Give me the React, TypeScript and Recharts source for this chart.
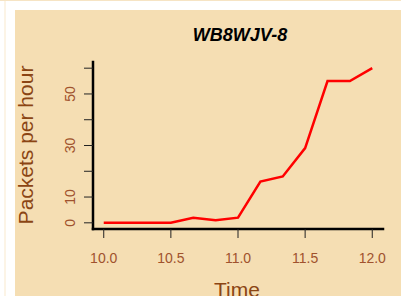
import { LineChart, Line, XAxis, YAxis } from "recharts";

// hours (10-minute steps) and packets per hour
const times = [10, 10.1667, 10.3333, 10.5, 10.6667, 10.8333, 11, 11.1667, 11.3333, 11.5, 11.6667, 11.8333, 12];
const packets = [0, 0, 0, 0, 2, 1, 2, 16, 18, 29, 55, 55, 60];

const xTicks = [10, 10.5, 11, 11.5, 12];
const xTickLabels = ["10.0", "10.5", "11.0", "11.5", "12.0"];
const yTicks = [0, 10, 20, 30, 40, 50, 60];
const yTickLabels = ["0", "10", "", "30", "", "50", ""];

const title = "WB8WJV-8";
const xTitle = "Time";
const yTitle = "Packets per hour";

const data = times.map((t, i) => ({ t, v: packets[i] }));

const FONT = '"Liberation Sans", Arial, Helvetica, sans-serif';
const BROWN = "#8b4513";
const TICK_BROWN = "#a0522d";

function XTick(props: any) {
  const { x, y, payload } = props;
  const i = xTicks.indexOf(payload.value);
  return (
    <text x={x} y={y + 23} textAnchor="middle" fill={TICK_BROWN} fontSize={14} fontFamily={FONT}>
      {i >= 0 ? xTickLabels[i] : ""}
    </text>
  );
}

function YTick(props: any) {
  const { y, payload } = props;
  const i = yTicks.indexOf(payload.value);
  const label = i >= 0 ? yTickLabels[i] : "";
  if (!label) return <g />;
  const x = 60;
  return (
    <text
      x={x}
      y={y}
      transform={`rotate(-90, ${x}, ${y})`}
      textAnchor="middle"
      fill={TICK_BROWN}
      fontSize={14}
      fontFamily={FONT}
    >
      {label}
    </text>
  );
}

export default function App() {
  return (
    <div style={{ position: "absolute", left: 0, top: 0, width: 401, height: 296, background: "#fff", overflow: "hidden" }}>
      <div style={{ position: "absolute", left: 0, top: 0, width: 401, height: 1, background: "#f6e4c4" }} />
      <div style={{ position: "absolute", left: 4, top: 1, width: 2, height: 295, background: "#fcf4e6" }} />
      <div style={{ position: "absolute", left: 15, top: 10, width: 386, height: 286, background: "#f5deb3", overflow: "hidden" }}>
        <LineChart width={386} height={300} data={data} margin={{ top: 52, right: 18, bottom: 0, left: 0 }}>
          <XAxis
            dataKey="t"
            type="number"
            domain={[9.92, 12.08]}
            ticks={xTicks}
            allowDataOverflow
            height={81}
            tickSize={9}
            axisLine={{ stroke: "#000", strokeWidth: 2.5, strokeLinecap: "square" }}
            tickLine={{ stroke: "#222", strokeWidth: 1 }}
            tick={<XTick />}
            interval={0}
          />
          <YAxis
            type="number"
            domain={[-2.4, 62.4]}
            ticks={yTicks}
            allowDataOverflow
            width={78}
            tickSize={9}
            axisLine={{ stroke: "#000", strokeWidth: 2.5, strokeLinecap: "square" }}
            tickLine={{ stroke: "#222", strokeWidth: 1 }}
            tick={<YTick />}
            interval={0}
          />
          <Line
            dataKey="v"
            type="linear"
            stroke="#ff0000"
            strokeWidth={2.5}
            dot={false}
            isAnimationActive={false}
          />
        </LineChart>
        <svg width={386} height={286} style={{ position: "absolute", left: 0, top: 0, pointerEvents: "none" }}>
          <text x={225} y={31} textAnchor="middle" fontFamily={FONT} fontWeight="bold" fontStyle="italic" fontSize={18} fill="#000">
            {title}
          </text>
          <text x={222} y={287} textAnchor="middle" fontFamily={FONT} fontSize={21} fill={BROWN}>
            {xTitle}
          </text>
          <text x={18} y={135} transform="rotate(-90, 18, 135)" textAnchor="middle" fontFamily={FONT} fontSize={21} fill={BROWN}>
            {yTitle}
          </text>
        </svg>
      </div>
    </div>
  );
}
